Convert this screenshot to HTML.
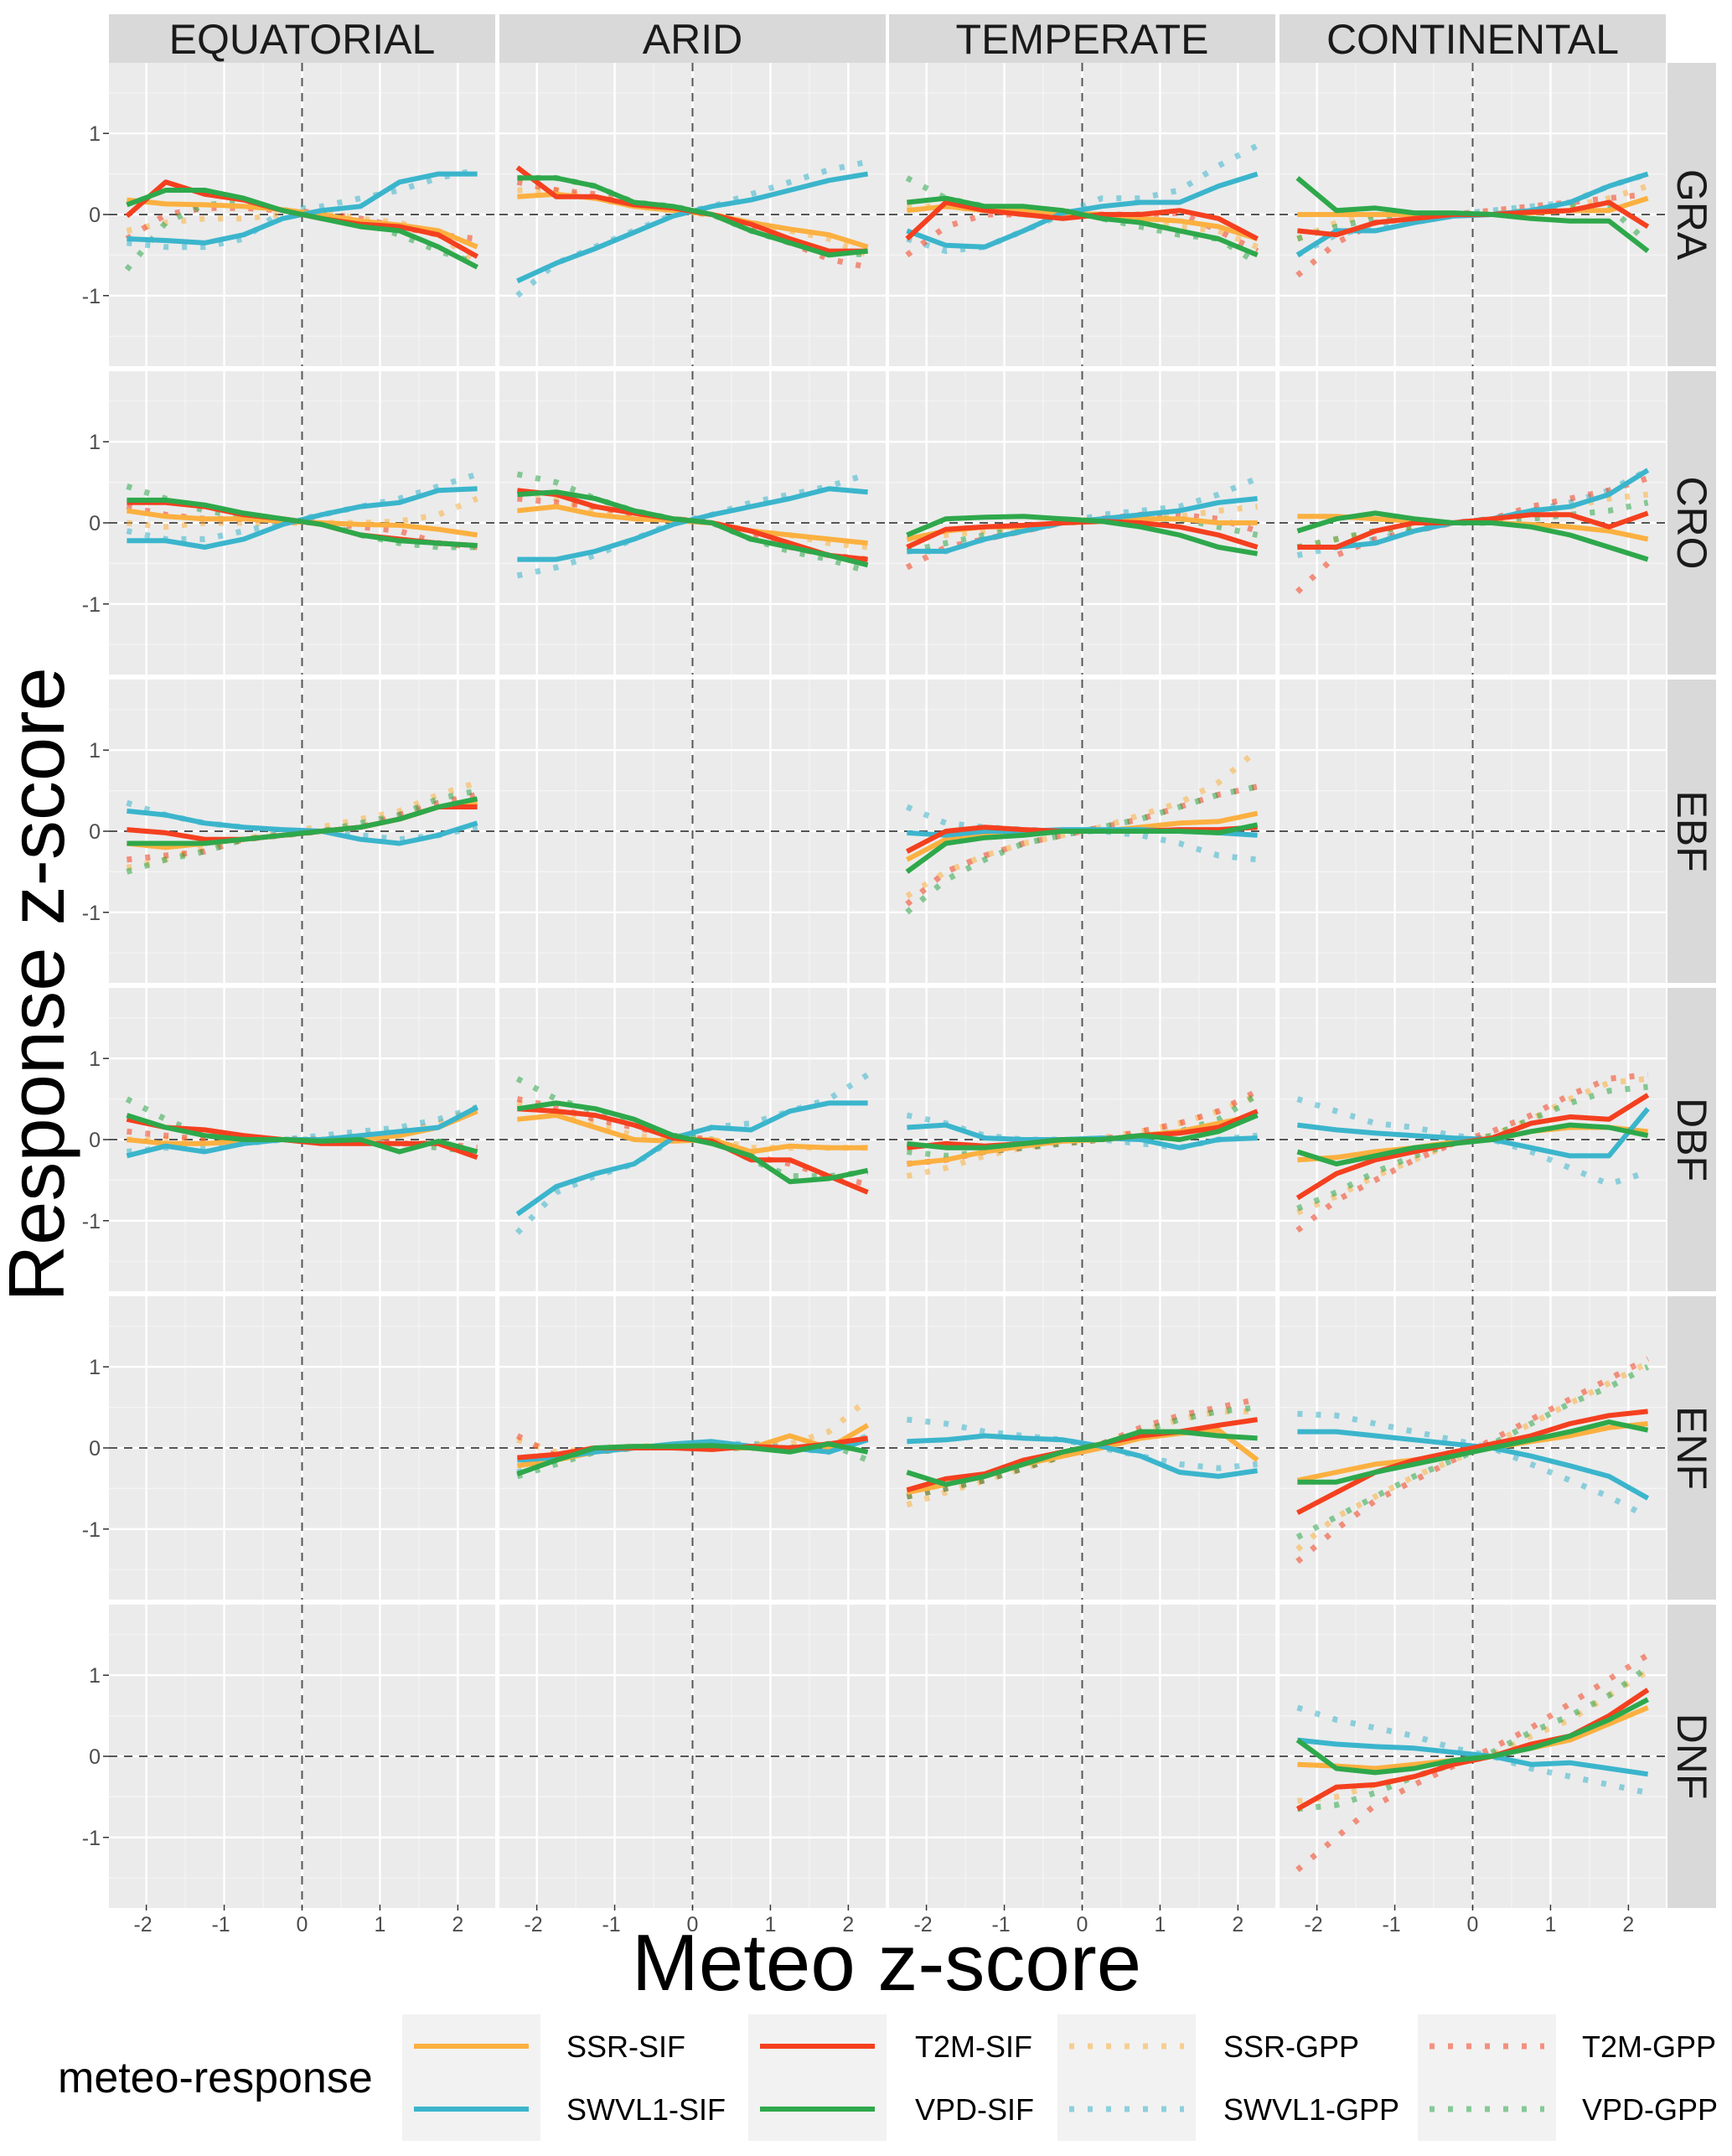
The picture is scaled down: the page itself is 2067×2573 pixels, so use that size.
<!DOCTYPE html>
<html><head><meta charset="utf-8"><style>
html,body{margin:0;padding:0;background:#fff;}
svg{display:block;font-family:"Liberation Sans",sans-serif;}
</style></head><body>
<svg id="chart" width="2067" height="2573" viewBox="0 0 2067 2573" xmlns="http://www.w3.org/2000/svg"></svg>
<script>
const columns = ["EQUATORIAL","ARID","TEMPERATE","CONTINENTAL"];
const rowsLab = ["GRA","CRO","EBF","DBF","ENF","DNF"];
const xValues = [-2.25,-1.75,-1.25,-0.75,-0.25,0.25,0.75,1.25,1.75,2.25];
const xTicks = [-2,-1,0,1,2];
const yTicks = [-1,0,1];
const seriesNames = ["SSR-SIF","SWVL1-SIF","T2M-SIF","VPD-SIF","SSR-GPP","SWVL1-GPP","T2M-GPP","VPD-GPP"];
const seriesColors = ["#FBB040","#3BB5CC","#F4401F","#2EA84B","#FBB040","#3BB5CC","#F4401F","#2EA84B"];
const gra = [
 [[.18,.13,.12,.1,.06,0,-.08,-.13,-.2,-.4],[-.3,-.32,-.35,-.25,-.05,.05,.1,.4,.5,.5],[-.02,.4,.25,.18,.05,-.05,-.12,-.15,-.25,-.52],[.12,.3,.3,.2,.05,-.05,-.15,-.2,-.4,-.65],
  [-.2,-.1,-.05,-.05,0,.03,-.05,-.1,-.25,-.6],[-.35,-.4,-.4,-.3,.05,.1,.2,.3,.45,.55],[-.3,0,.08,.08,.05,.02,-.05,-.15,-.25,-.3],[-.68,-.1,.12,.15,.05,0,-.1,-.25,-.45,-.6]],
 [[.22,.25,.2,.1,.05,0,-.1,-.18,-.25,-.4],[-.82,-.6,-.42,-.22,-.02,.1,.18,.3,.42,.5],[.58,.22,.22,.12,.08,0,-.12,-.3,-.45,-.45],[.45,.45,.35,.15,.1,0,-.2,-.35,-.5,-.45],
  [.3,.3,.2,.1,.05,0,-.1,-.2,-.3,-.5],[-1.0,-.6,-.4,-.2,0,.1,.25,.4,.55,.65],[.4,.3,.25,.15,.05,0,-.15,-.35,-.55,-.65],[.45,.45,.35,.15,.1,0,-.2,-.35,-.45,-.5]],
 [[.05,.1,.05,.05,.02,0,-.05,-.08,-.15,-.3],[-.2,-.38,-.4,-.2,.02,.1,.15,.15,.35,.5],[-.3,.15,.05,0,-.05,0,0,.05,-.05,-.3],[.15,.2,.1,.1,.05,-.05,-.1,-.2,-.3,-.5],
  [.1,.1,.05,0,0,0,-.1,-.15,-.2,-.4],[-.3,-.45,-.4,-.2,0,.2,.2,.3,.6,.85],[-.5,-.15,0,0,0,0,0,.02,-.2,-.45],[.45,.2,.1,.05,.05,-.05,-.15,-.25,-.3,-.6]],
 [[0,0,0,0,0,0,.02,.05,.05,.2],[-.5,-.2,-.2,-.1,-.02,0,.05,.15,.35,.5],[-.2,-.25,-.1,-.05,0,0,.03,.05,.15,-.15],[.45,.05,.08,.02,.02,0,-.05,-.08,-.08,-.45],
  [-.3,-.1,0,0,0,0,.05,.1,.2,.35],[-.5,-.25,-.15,-.1,0,.05,.1,.15,.35,.5],[-.75,-.35,-.1,-.05,0,.05,.1,.15,.2,.25],[-.3,-.15,-.05,0,0,0,.05,.1,.1,-.35]]
];
const cro = [
 [[.15,.08,.05,.05,.02,0,-.02,-.03,-.08,-.15],[-.22,-.22,-.3,-.2,-.02,.1,.2,.25,.4,.42],[.25,.25,.2,.1,.05,-.02,-.15,-.2,-.25,-.28],[.28,.28,.22,.12,.05,-.02,-.15,-.22,-.25,-.28],
  [0,-.05,0,0,0,0,0,.02,.1,.3],[-.1,-.2,-.2,-.1,0,.1,.2,.3,.45,.6],[.2,.1,.05,.05,.02,0,-.05,-.1,-.25,-.3],[.45,.3,.15,.08,.02,0,-.15,-.25,-.3,-.3]],
 [[.15,.2,.1,.05,.03,0,-.1,-.15,-.2,-.25],[-.45,-.45,-.35,-.2,-.02,.1,.2,.3,.42,.38],[.4,.35,.2,.12,.05,0,-.1,-.25,-.4,-.45],[.35,.38,.3,.15,.05,0,-.2,-.3,-.4,-.52],
  [.4,.3,.15,.1,.05,0,-.1,-.15,-.25,-.3],[-.65,-.55,-.4,-.2,0,.1,.25,.35,.45,.6],[.3,.25,.2,.1,.05,0,-.15,-.3,-.4,-.45],[.6,.5,.3,.15,.05,0,-.2,-.35,-.45,-.6]],
 [[-.2,-.1,-.05,-.05,0,.02,.05,.05,0,0],[-.35,-.35,-.2,-.1,0,.05,.1,.15,.25,.3],[-.3,-.08,-.05,-.03,0,.02,0,-.05,-.15,-.3],[-.15,.05,.07,.08,.05,.02,-.05,-.15,-.3,-.38],
  [-.2,-.15,-.1,-.05,0,.02,.05,.08,.15,.2],[-.35,-.35,-.2,-.1,0,.1,.15,.2,.35,.55],[-.55,-.3,-.2,-.1,0,.05,.1,.1,.05,-.1],[-.35,-.25,-.15,-.05,0,.03,.05,.05,-.05,-.15]],
 [[.08,.08,.05,.02,0,0,-.02,-.05,-.1,-.2],[-.3,-.3,-.25,-.1,0,.05,.15,.2,.35,.65],[-.3,-.3,-.1,0,0,.05,.1,.1,-.05,.12],[-.1,.05,.12,.05,0,0,-.05,-.15,-.3,-.45],
  [-.3,-.2,-.1,-.05,0,.03,.1,.2,.3,.35],[-.4,-.3,-.2,-.1,0,.05,.15,.25,.4,.65],[-.85,-.4,-.2,-.1,0,.05,.2,.3,.4,.55],[-.3,-.2,-.1,-.05,0,0,.05,.1,.15,.25]]
];
const ebf = [
 [[-.15,-.2,-.15,-.1,-.05,0,.05,.15,.3,.35],[.25,.2,.1,.05,.02,0,-.1,-.15,-.05,.1],[.02,-.02,-.1,-.1,-.05,0,.05,.15,.3,.3],[-.15,-.15,-.15,-.1,-.05,0,.05,.15,.3,.4],
  [-.45,-.35,-.2,-.1,0,.05,.15,.25,.45,.6],[.35,.2,.1,.05,0,0,-.05,-.1,-.05,.05],[-.35,-.3,-.25,-.1,-.05,0,.05,.2,.35,.45],[-.5,-.35,-.25,-.1,-.05,0,.1,.2,.4,.5]],
 null,
 [[-.35,-.1,-.05,0,0,0,.05,.1,.12,.22],[-.02,-.05,0,0,.02,.02,.02,0,-.02,-.05],[-.25,0,.05,.02,0,0,0,.02,.02,.05],[-.5,-.15,-.08,-.05,0,0,0,0,-.02,.08],
  [-.8,-.5,-.3,-.15,-.05,.05,.2,.35,.6,1.0],[.3,.1,.05,.02,0,0,-.05,-.15,-.3,-.35],[-.9,-.5,-.3,-.15,-.05,.05,.15,.3,.45,.55],[-1.0,-.6,-.35,-.15,-.05,.05,.15,.3,.45,.55]],
 null
];
const dbf = [
 [[0,-.05,-.05,-.02,0,0,0,.05,.15,.35],[-.2,-.08,-.15,-.05,0,0,.05,.1,.15,.4],[.25,.15,.12,.05,0,-.05,-.05,-.05,-.05,-.22],[.3,.15,.05,0,0,-.02,0,-.15,-.02,-.15],
  [0,0,0,0,0,0,.05,.1,.2,.4],[-.15,-.1,-.1,-.05,0,.05,.1,.15,.25,.4],[.1,.05,0,0,0,0,0,-.05,-.05,-.1],[.5,.25,.05,0,0,0,0,-.05,-.1,-.15]],
 [[.25,.3,.15,0,-.02,0,-.15,-.08,-.1,-.1],[-.92,-.58,-.42,-.3,.02,.15,.12,.35,.45,.45],[.38,.35,.3,.18,.02,-.02,-.25,-.25,-.45,-.65],[.38,.45,.38,.25,.05,-.05,-.2,-.52,-.48,-.38],
  [.45,.35,.2,.05,0,0,-.1,-.1,-.1,-.1],[-1.15,-.65,-.45,-.3,0,.15,.2,.35,.5,.8],[.5,.4,.25,.15,.05,0,-.2,-.3,-.45,-.55],[.75,.5,.35,.2,.05,0,-.25,-.45,-.45,-.4]],
 [[-.3,-.25,-.15,-.08,-.02,0,.05,.1,.2,.3],[.15,.18,.02,0,0,.02,0,-.1,0,.02],[-.1,-.05,-.08,-.05,0,0,.05,.08,.15,.35],[-.05,-.1,-.1,-.05,0,0,.05,0,.1,.3],
  [-.45,-.35,-.2,-.1,-.02,.02,.1,.2,.35,.55],[.3,.2,.05,0,0,0,-.05,-.1,0,.05],[-.3,-.25,-.15,-.1,-.05,0,.1,.2,.35,.6],[-.15,-.2,-.15,-.1,-.05,0,.05,.1,.25,.55]],
 [[-.25,-.22,-.15,-.1,-.03,0,.1,.15,.15,.1],[.18,.12,.08,.05,.02,0,-.1,-.2,-.2,.38],[-.72,-.42,-.25,-.15,-.05,.02,.2,.28,.25,.55],[-.15,-.3,-.2,-.1,-.05,0,.1,.18,.15,.05],
  [-.9,-.7,-.45,-.25,-.05,.05,.25,.5,.7,.75],[.5,.35,.2,.15,.05,0,-.15,-.35,-.55,-.4],[-1.12,-.75,-.5,-.25,-.05,.1,.3,.55,.75,.8],[-.85,-.65,-.4,-.2,-.05,.05,.25,.45,.6,.65]]
];
const enf = [
 null,
 [[-.22,-.15,-.05,0,0,0,0,.15,0,.28],[-.15,-.12,-.05,0,.05,.08,.02,0,-.05,.1],[-.12,-.08,0,0,0,-.02,.02,0,.05,.12],[-.32,-.15,0,.02,.02,.03,0,-.05,.05,-.05],
  [.1,-.05,0,.02,.03,0,.05,.05,.2,.6],[-.3,-.15,-.05,0,.03,.05,.05,0,-.05,.15],[.15,-.1,-.05,0,.02,0,0,0,.05,.1],[-.35,-.2,-.05,0,.02,0,0,0,.05,-.15]],
 [[-.55,-.45,-.35,-.2,-.1,0,.12,.18,.22,-.15],[.08,.1,.15,.12,.1,.02,-.1,-.3,-.35,-.28],[-.52,-.38,-.32,-.15,-.05,.05,.15,.2,.28,.35],[-.3,-.45,-.35,-.2,-.05,.05,.2,.2,.15,.12],
  [-.7,-.55,-.4,-.25,-.1,.05,.2,.35,.45,.45],[.35,.3,.2,.15,.1,0,-.1,-.2,-.25,-.2],[-.6,-.5,-.4,-.25,-.1,.05,.25,.4,.5,.6],[-.6,-.5,-.4,-.25,-.1,.05,.2,.35,.45,.5]],
 [[-.4,-.3,-.2,-.15,-.08,0,.08,.15,.25,.3],[.2,.2,.15,.1,.05,0,-.1,-.22,-.35,-.62],[-.8,-.55,-.3,-.15,-.05,.05,.15,.3,.4,.45],[-.42,-.42,-.3,-.2,-.1,0,.1,.2,.32,.22],
  [-1.25,-.85,-.6,-.35,-.15,.05,.3,.55,.8,1.05],[.42,.4,.3,.2,.1,0,-.2,-.4,-.6,-.85],[-1.4,-1.0,-.65,-.4,-.15,.1,.35,.6,.85,1.1],[-1.1,-.85,-.6,-.35,-.15,.05,.3,.55,.75,1.0]]
];
const dnf = [
 null, null, null,
 [[-.1,-.12,-.15,-.1,-.05,0,.1,.2,.4,.6],[.2,.15,.12,.1,.05,0,-.1,-.08,-.15,-.22],[-.65,-.38,-.35,-.25,-.1,0,.15,.25,.5,.82],[.2,-.15,-.2,-.15,-.05,0,.1,.25,.45,.7],
  [-.55,-.5,-.35,-.25,-.1,.02,.25,.45,.75,1.05],[.6,.45,.35,.25,.1,0,-.15,-.25,-.35,-.45],[-1.4,-1.0,-.6,-.35,-.12,.1,.35,.65,.95,1.25],[-.65,-.6,-.45,-.25,-.1,.05,.3,.5,.75,1.1]]
];
const allData = [gra, cro, ebf, dbf, enf, dnf];

const NS = "http://www.w3.org/2000/svg";
const svg = document.getElementById("chart");
function mk(tag, attrs, parent){ const e=document.createElementNS(NS,tag); for(const k in attrs) e.setAttribute(k,attrs[k]); (parent||svg).appendChild(e); return e; }

const PX = [130,596,1061,1527], PW = 461;
const PY0 = 75, PH = 362, PGAP = 6;
const XR = 2.48, YR = 1.87;
function sx(c,v){ return PX[c] + PW/2 + v*(PW/2)/XR; }
function sy(r,v){ const top = PY0 + r*(PH+PGAP); return top + PH/2 - v*(PH/2)/YR; }

columns.forEach((name,c)=>{
  const g=mk("g",{});
  
  
  mk("rect",{x:PX[c],y:17,width:PW,height:58,fill:"#D9D9D9"},g);
  const t=mk("text",{x:PX[c]+PW/2,y:64,"text-anchor":"middle","font-size":50,fill:"#1a1a1a"},g);
  t.textContent=name;
});

rowsLab.forEach((rn,r)=>{
  const top = PY0 + r*(PH+PGAP);
  const sg=mk("g",{});
  
  
  mk("rect",{x:1990,y:top,width:58,height:PH,fill:"#D9D9D9"},sg);
  const st=mk("text",{x:0,y:0,"text-anchor":"middle","font-size":50,fill:"#1a1a1a",transform:`translate(2002,${top+PH/2}) rotate(90)`},sg);
  st.textContent=rn;
  yTicks.forEach(v=>{
    const t=mk("text",{x:120,y:sy(r,v)+9,"text-anchor":"end","font-size":25,fill:"#4d4d4d"});
    
    
    t.textContent=String(v);
    mk("line",{x1:123,x2:130,y1:sy(r,v),y2:sy(r,v),stroke:"#333","stroke-width":1.5});
  });
  columns.forEach((cn,c)=>{
    const pg=mk("g",{});
    
    
    mk("rect",{x:PX[c],y:top,width:PW,height:PH,fill:"#EBEBEB"},pg);
    [-2.5,-1.5,-0.5,0.5,1.5,2.5].forEach(v=>{ const x=sx(c,v); if(x>PX[c]&&x<PX[c]+PW) mk("line",{x1:x,x2:x,y1:top,y2:top+PH,stroke:"#F5F5F5","stroke-width":1.2},pg); });
    [-1.5,-0.5,0.5,1.5].forEach(v=>mk("line",{x1:PX[c],x2:PX[c]+PW,y1:sy(r,v),y2:sy(r,v),stroke:"#F5F5F5","stroke-width":1.2},pg));
    xTicks.forEach(v=>mk("line",{x1:sx(c,v),x2:sx(c,v),y1:top,y2:top+PH,stroke:"#FFFFFF","stroke-width":2.4},pg));
    yTicks.forEach(v=>mk("line",{x1:PX[c],x2:PX[c]+PW,y1:sy(r,v),y2:sy(r,v),stroke:"#FFFFFF","stroke-width":2.4},pg));
    mk("line",{x1:sx(c,0),x2:sx(c,0),y1:top,y2:top+PH,stroke:"#555","stroke-width":2,"stroke-dasharray":"10 8"},pg);
    mk("line",{x1:PX[c],x2:PX[c]+PW,y1:sy(r,0),y2:sy(r,0),stroke:"#555","stroke-width":2,"stroke-dasharray":"10 8"},pg);
    const d = allData[r][c];
    if(!d) return;
    const order=[4,5,6,7,0,1,2,3];
    order.forEach(s=>{
      const pts = d[s].map((v,i)=>sx(c,xValues[i]).toFixed(1)+","+sy(r,v).toFixed(1)).join(" ");
      const dotted = s>=4;
      const pl=mk("polyline",{points:pts,fill:"none",stroke:seriesColors[s],"stroke-width":dotted?7:6,"stroke-linejoin":"round","stroke-dasharray":dotted?"6 16":"none","stroke-opacity":dotted?0.55:1},pg);
      
      
    });
  });
});
columns.forEach((cn,c)=>{
  xTicks.forEach(v=>{
    mk("line",{x1:sx(c,v),x2:sx(c,v),y1:2273,y2:2280,stroke:"#333","stroke-width":1.5});
    const t=mk("text",{x:sx(c,v)-(v<0?4:0),y:2305,"text-anchor":"middle","font-size":25,fill:"#4d4d4d"});
    
    
    t.textContent=String(v);
  });
});
const xt=mk("text",{x:1058,y:2375,"text-anchor":"middle","font-size":96,fill:"#000"});


xt.textContent="Meteo z-score";
const yt=mk("text",{x:0,y:0,"text-anchor":"middle","font-size":94,fill:"#000",transform:"translate(76,1175) rotate(-90)"});


yt.textContent="Response z-score";
const lg=mk("g",{});


const ltit=mk("text",{x:69,y:2497,"font-size":52,fill:"#000"},lg);
ltit.textContent="meteo-response";
const keyX=[480,893,1262,1692], textX=[676,1092,1460,1888], rowY=[2442,2517];
for(let k=0;k<8;k++){
  const col=Math.floor(k/2), row=k%2;
  const kg=mk("g",{},lg);
  
  
  if(row===0) mk("rect",{x:keyX[col],y:2404,width:165,height:151,fill:"#F2F2F2"},kg);
  const dotted=k>=4;
  mk("line",{x1:keyX[col]+14,x2:keyX[col]+151,y1:rowY[row],y2:rowY[row],stroke:seriesColors[k],"stroke-width":dotted?7:6,"stroke-dasharray":dotted?"6 16":"none","stroke-opacity":dotted?0.55:1},kg);
  const t=mk("text",{x:textX[col],y:rowY[row]+13,"font-size":36,fill:"#000"},kg);
  t.textContent=seriesNames[k];
}
</script>
</body></html>
